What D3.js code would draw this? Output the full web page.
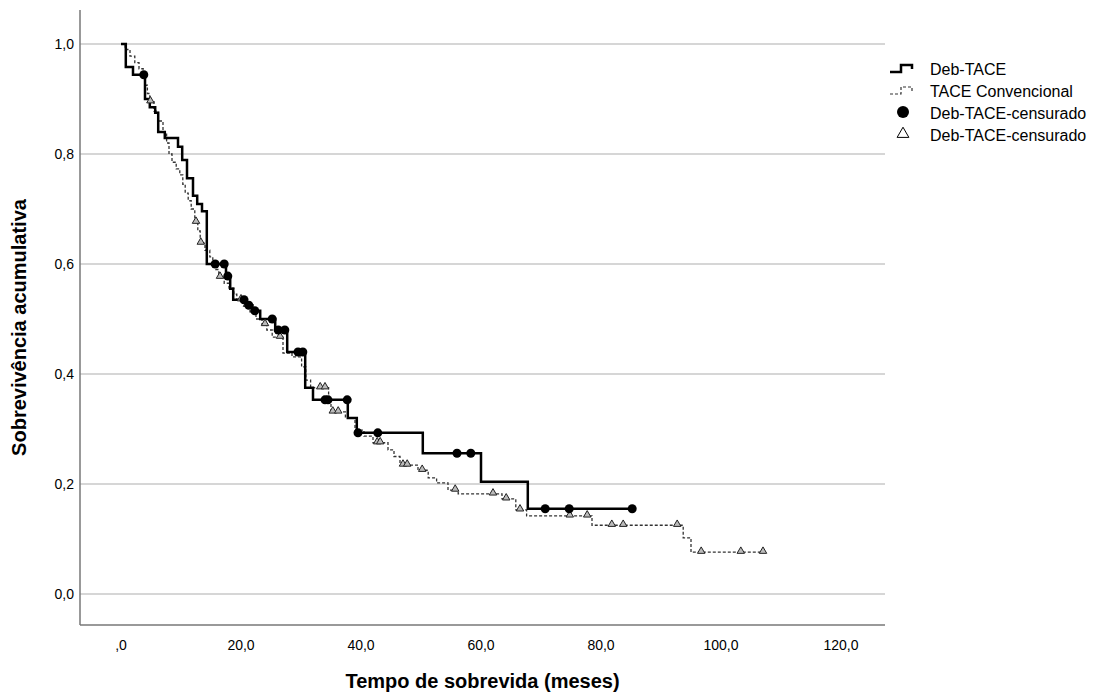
<!DOCTYPE html>
<html lang="pt">
<head>
    <meta charset="UTF-8">
    <title>Sobrevivência acumulativa</title>
    <script src="https://d3js.org/d3.v7.min.js"></script>
    <style>
        body { margin: 0; background: #fff; }
        svg text { font-family: "Liberation Sans", Arial, sans-serif; fill: #000; }
        .tick-label { font-size: 14px; }
        .axis-title { font-size: 20px; font-weight: bold; }
        .legend text { font-size: 16px; }
    </style>
</head>
<body>
<div id="chart"></div>
<script>
    // Deb-TACE: event times (months) and survival after each event
    const debTimes = [0.8, 2.0, 4.0, 4.8, 5.7, 6.2, 7.3, 9.5, 10.2, 11.0, 12.0, 12.7, 13.5, 14.3,
        17.5, 18.2, 18.7, 20.8, 21.9, 23.2, 25.7, 27.7, 30.7, 32.0, 37.8, 39.3, 50.3, 60.0, 67.8];
    const debSurv = [0.958, 0.944, 0.90, 0.885, 0.875, 0.84, 0.829, 0.813, 0.789, 0.756, 0.724, 0.709, 0.696, 0.60,
        0.578, 0.555, 0.535, 0.525, 0.515, 0.50, 0.48, 0.44, 0.375, 0.353, 0.32, 0.293, 0.256, 0.204, 0.155];
    const debCensored = [3.8, 15.7, 17.2, 17.8, 20.5, 21.3, 22.3, 25.2, 26.2, 27.3, 29.5, 30.3,
        34.0, 34.5, 37.7, 39.5, 42.8, 56.0, 58.3, 70.7, 74.7, 85.2];

    // TACE Convencional
    const convTimes = [0.7, 1.5, 2.3, 3.0, 3.7, 4.0, 4.4, 4.8, 5.5, 6.2, 7.0, 7.6, 8.0, 8.5, 9.2, 9.8,
        10.3, 10.7, 11.2, 11.7, 12.3, 12.8, 13.2, 14.0, 14.8, 15.3, 15.8, 16.3, 17.2, 18.0, 18.8, 19.3,
        20.5, 21.5, 22.5, 23.5, 24.3, 25.2, 27.0, 28.5, 30.1, 30.8, 31.6, 34.6, 35.0, 37.4, 39.0,
        40.5, 42.0, 44.5, 45.5, 46.5, 49.5, 51.2, 52.6, 54.5, 56.2, 63.5, 65.8, 67.6, 78.5, 93.7, 95.0];
    const convSurv = [0.99, 0.978, 0.966, 0.955, 0.944, 0.925, 0.91, 0.895, 0.878, 0.86, 0.84, 0.82, 0.80, 0.785, 0.773, 0.762,
        0.745, 0.729, 0.715, 0.70, 0.676, 0.66, 0.638, 0.625, 0.613, 0.602, 0.59, 0.576, 0.565, 0.556, 0.545, 0.535,
        0.525, 0.513, 0.50, 0.49, 0.48, 0.467, 0.438, 0.431, 0.413, 0.389, 0.375, 0.349, 0.331, 0.32, 0.298,
        0.287, 0.275, 0.262, 0.25, 0.2345, 0.225, 0.211, 0.202, 0.189, 0.182, 0.173, 0.153, 0.142, 0.125, 0.102, 0.076];
    const convCensored = [4.9, 12.5, 13.3, 16.5, 20.0, 21.0, 24.0, 26.5, 33.2, 34.0, 35.3, 36.2, 42.7, 43.2,
        47.0, 47.7, 50.2, 55.7, 62.0, 64.2, 66.5, 74.8, 77.7, 81.8, 83.7, 92.7, 96.7, 103.3, 107.0];

    const xTicks = [0, 20, 40, 60, 80, 100, 120];
    const yTicks = [0, 0.2, 0.4, 0.6, 0.8, 1.0];
    const legendLabels = ["Deb-TACE", "TACE Convencional", "Deb-TACE-censurado", "Deb-TACE-censurado"];

    const width = 1108, height = 694;
    const plot = { left: 80, right: 885, top: 10, bottom: 625 };

    const x = d3.scaleLinear().domain([0, 120]).range([121, 841]);
    const y = d3.scaleLinear().domain([0, 1]).range([594, 44]);

    const comma = v => d3.format(".1f")(v).replace(".", ",");

    const svg = d3.select("#chart").append("svg")
        .attr("width", width)
        .attr("height", height);

    // gridlines
    svg.selectAll(".grid")
        .data(yTicks)
        .enter().append("line")
        .attr("x1", plot.left).attr("x2", plot.right)
        .attr("y1", d => y(d)).attr("y2", d => y(d))
        .attr("stroke", "#c8c8c8")
        .attr("stroke-width", 1.5);

    // axis lines
    svg.append("line")
        .attr("x1", plot.left).attr("x2", plot.left)
        .attr("y1", plot.top).attr("y2", plot.bottom)
        .attr("stroke", "#777").attr("stroke-width", 1.5);
    svg.append("line")
        .attr("x1", plot.left).attr("x2", plot.right)
        .attr("y1", plot.bottom).attr("y2", plot.bottom)
        .attr("stroke", "#777").attr("stroke-width", 1.5);

    // tick labels
    svg.selectAll(".ylab")
        .data(yTicks)
        .enter().append("text")
        .attr("class", "tick-label")
        .attr("x", plot.left - 6)
        .attr("y", d => y(d) + 5)
        .attr("text-anchor", "end")
        .text(d => comma(d));

    svg.selectAll(".xlab")
        .data(xTicks)
        .enter().append("text")
        .attr("class", "tick-label")
        .attr("x", d => x(d))
        .attr("y", 650)
        .attr("text-anchor", "middle")
        .text(d => d === 0 ? ",0" : comma(d));

    // axis titles
    svg.append("text")
        .attr("class", "axis-title")
        .attr("x", (plot.left + plot.right) / 2)
        .attr("y", 688)
        .attr("text-anchor", "middle")
        .text("Tempo de sobrevida (meses)");

    svg.append("text")
        .attr("class", "axis-title")
        .attr("transform", "translate(26," + ((plot.top + plot.bottom) / 2 + 10) + ") rotate(-90)")
        .attr("text-anchor", "middle")
        .text("Sobrevivência acumulativa");

    // survival curves
    function stepPoints(times, surv, endT) {
        const pts = [[0, 1]];
        times.forEach((t, i) => pts.push([t, surv[i]]));
        pts.push([endT, surv[surv.length - 1]]);
        return pts;
    }
    function survAt(times, surv, t) {
        let s = 1;
        times.forEach((tt, i) => { if (tt <= t) s = surv[i]; });
        return s;
    }

    const line = d3.line()
        .x(d => x(d[0]))
        .y(d => y(d[1]))
        .curve(d3.curveStepAfter);

    svg.append("path")
        .datum(stepPoints(convTimes, convSurv, d3.max(convCensored)))
        .attr("fill", "none")
        .attr("stroke", "#333")
        .attr("stroke-width", 1.3)
        .attr("stroke-dasharray", "3,2")
        .attr("d", line);

    svg.append("path")
        .datum(stepPoints(debTimes, debSurv, d3.max(debCensored)))
        .attr("fill", "none")
        .attr("stroke", "#000")
        .attr("stroke-width", 2.5)
        .attr("d", line);

    // censored marks
    svg.selectAll(".tri")
        .data(convCensored)
        .enter().append("path")
        .attr("transform", d => "translate(" + x(d) + "," + (y(survAt(convTimes, convSurv, d)) - 1) + ")")
        .attr("d", d3.symbol().type(d3.symbolTriangle).size(24))
        .attr("fill", "#bbb")
        .attr("stroke", "#222")
        .attr("stroke-width", 1);

    svg.selectAll(".dot")
        .data(debCensored)
        .enter().append("circle")
        .attr("cx", d => x(d))
        .attr("cy", d => y(survAt(debTimes, debSurv, d)))
        .attr("r", 4.5)
        .attr("fill", "#000");

    // legend
    const legend = svg.append("g").attr("class", "legend");
    const lx = 890, ly = 70, lstep = 22;

    legend.append("path")
        .attr("d", `M${lx},${ly + 2} h11 v-7 h11 v4`)
        .attr("fill", "none").attr("stroke", "#000").attr("stroke-width", 2.5);
    legend.append("path")
        .attr("d", `M${lx},${ly + lstep + 2} h11 v-7 h11 v4`)
        .attr("fill", "none").attr("stroke", "#333").attr("stroke-width", 1.2)
        .attr("stroke-dasharray", "3,2");
    legend.append("circle")
        .attr("cx", lx + 13).attr("cy", ly + 2 * lstep - 2).attr("r", 6)
        .attr("fill", "#000");
    legend.append("path")
        .attr("transform", `translate(${lx + 13},${ly + 3 * lstep - 2})`)
        .attr("d", d3.symbol().type(d3.symbolTriangle).size(60))
        .attr("fill", "#fff").attr("stroke", "#000").attr("stroke-width", 1);

    legend.selectAll(".ltext")
        .data(legendLabels)
        .enter().append("text")
        .attr("x", lx + 40)
        .attr("y", (d, i) => ly + i * lstep + 5)
        .text(d => d);
</script>
</body>
</html>
